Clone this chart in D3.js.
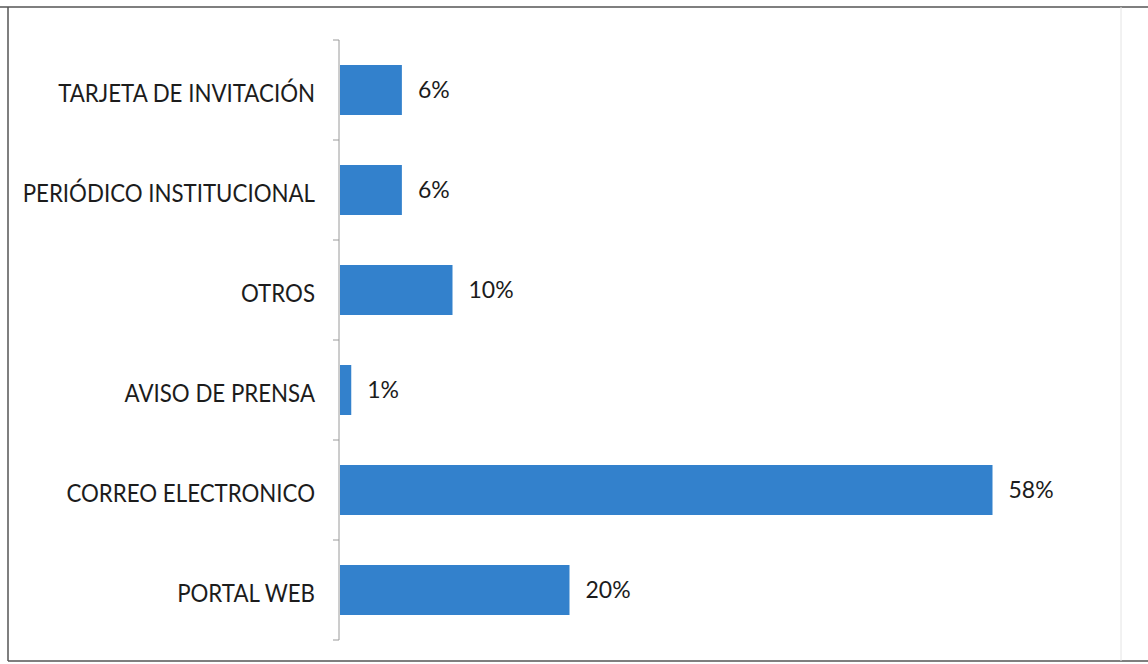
<!DOCTYPE html>
<html>
<head>
<meta charset="utf-8">
<script src="https://cdn.jsdelivr.net/npm/d3@7"></script>
<style>
  body { margin: 0; background: #fff; }
  text { font-family: Lato, "Open Sans", sans-serif; fill: #1c1c1c; }
</style>
</head>
<body>
<svg id="chart" width="1148" height="664"></svg>
<script>
"use strict";

// Categorias y porcentajes
const categorias = [
  "TARJETA DE INVITACIÓN",
  "PERIÓDICO INSTITUCIONAL",
  "OTROS",
  "AVISO DE PRENSA",
  "CORREO ELECTRONICO",
  "PORTAL WEB"
];
const porcentajes = [5.5, 5.5, 10, 1, 58, 20.4];
const dominioX = [0, 70];

const svg = d3.select("#chart");

// marco del escaneo
const marco = svg.append("g").attr("fill", "none");
marco.append("line").attr("x1", 0).attr("x2", 1148).attr("y1", 7).attr("y2", 7)
  .attr("stroke", "#555").attr("stroke-width", 1.5);
marco.append("line").attr("x1", 8).attr("x2", 8).attr("y1", 7).attr("y2", 661)
  .attr("stroke", "#555").attr("stroke-width", 1.5);
marco.append("line").attr("x1", 8).attr("x2", 1148).attr("y1", 661).attr("y2", 661)
  .attr("stroke", "#555").attr("stroke-width", 1.5);
marco.append("line").attr("x1", 1121).attr("x2", 1121).attr("y1", 7).attr("y2", 661)
  .attr("stroke", "#e4e4e4").attr("stroke-width", 1);

const x = d3.scaleLinear().domain(dominioX).range([340, 1127.5]);
const y = d3.scaleBand().domain(categorias).range([40, 640]).paddingInner(0.5).paddingOuter(0.25);

// eje vertical con marcas entre categorias
const eje = svg.append("g");
eje.append("line")
  .attr("x1", 339).attr("x2", 339).attr("y1", 40).attr("y2", 640)
  .attr("stroke", "#9a9a9a").attr("stroke-width", 1);
const cortes = d3.range(categorias.length + 1).map(i => 40 + i * y.step());
eje.selectAll("line.tick")
    .data(cortes)
  .enter().append("line")
    .attr("class", "tick")
    .attr("x1", 333).attr("x2", 339)
    .attr("y1", d => d).attr("y2", d => d)
    .attr("stroke", "#9a9a9a");

svg.selectAll("rect.barra")
    .data(porcentajes)
  .enter().append("rect")
    .attr("class", "barra")
    .attr("x", x(0))
    .attr("y", (d, i) => y(categorias[i]))
    .attr("width", d => x(d) - x(0))
    .attr("height", y.bandwidth())
    .attr("fill", "#3381cc");

// etiquetas de categoria, un poco estiradas en vertical como en el escaneo
svg.selectAll("text.cat")
    .data(categorias)
  .enter().append("text")
    .attr("class", "cat")
    .attr("transform", d => `translate(315,${y(d) + y.bandwidth() / 2 + 3}) scale(1,1.08)`)
    .attr("dy", "0.36em")
    .attr("text-anchor", "end")
    .attr("font-size", 22.3)
    .text(d => d);

svg.selectAll("text.valor")
    .data(porcentajes)
  .enter().append("text")
    .attr("class", "valor")
    .attr("x", d => x(d) + 16)
    .attr("y", (d, i) => y(categorias[i]) + y.bandwidth() / 2)
    .attr("dy", "0.36em")
    .attr("font-size", 23)
    .text(d => Math.round(d) + "%");
</script>
</body>
</html>
